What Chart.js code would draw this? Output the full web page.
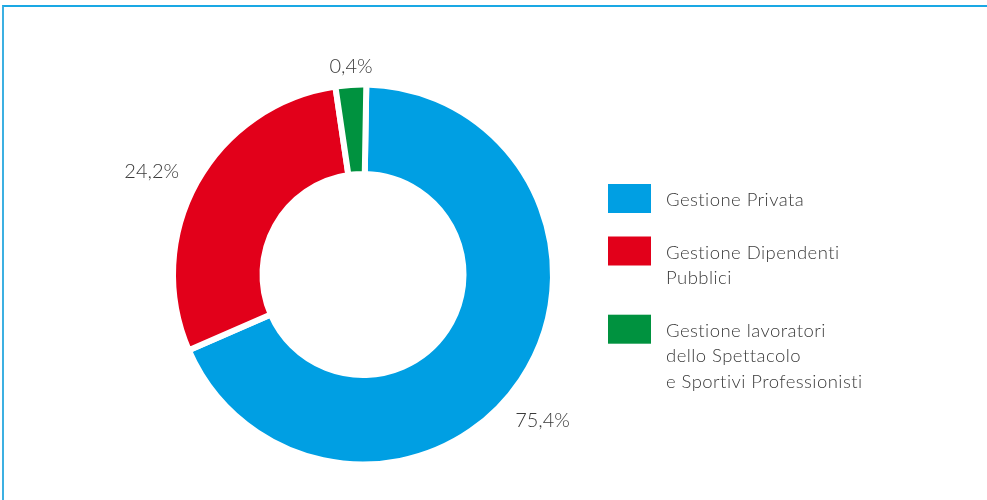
<!DOCTYPE html>
<html>
<head>
<meta charset="utf-8">
<script src="https://cdn.jsdelivr.net/npm/chart.js@4.4.1/dist/chart.umd.min.js"></script>
<style>
  html, body { margin: 0; padding: 0; background: #fff; }
  #wrap { position: relative; width: 987px; height: 500px; overflow: hidden; }
  #frame { position: absolute; left: 2px; top: 5px; width: 990px; height: 500px;
           border-top: 2px solid #1aa8e4; border-left: 2px solid #3cb0e2; box-sizing: border-box; }
  canvas { position: absolute; left: 0; top: 0; }
</style>
</head>
<body>
<div id="wrap">
  <div id="frame"></div>
  <canvas id="c" width="987" height="500"></canvas>
</div>
<script>
// Categories (legend text, one array entry per line)
const categories = [
  ['Gestione Privata'],
  ['Gestione Dipendenti', 'Pubblici'],
  ['Gestione lavoratori', 'dello Spettacolo', 'e Sportivi Professionisti']
];
// Arc shares as drawn in the picture (percent of the ring)
const arcShares = [68.2, 29.2, 2.6];
// Printed value labels
const valueLabels = ['75,4%', '24,2%', '0,4%'];
const colors = ['#009fe3', '#e2001a', '#00923f'];

const FONT = 'Lato, "Open Sans", "Noto Sans", sans-serif';
const TEXT = '#3a3a3a';

const labelPlugin = {
  id: 'valueLabels',
  afterDatasetsDraw(chart, args, opts) {
    const ctx = chart.ctx;
    const meta = chart.getDatasetMeta(0);
    ctx.save();
    ctx.font = '300 ' + opts.size + 'px ' + FONT;
    ctx.fillStyle = TEXT;
    ctx.textAlign = 'center';
    ctx.textBaseline = 'middle';
    meta.data.forEach((arc, i) => {
      const p = arc.getProps(['x', 'y', 'startAngle', 'endAngle', 'outerRadius'], true);
      const a = (p.startAngle + p.endAngle) / 2 + opts.shift[i] * Math.PI / 180;
      const r = p.outerRadius + opts.gap[i];
      ctx.fillText(valueLabels[i], p.x + Math.cos(a) * r, p.y + Math.sin(a) * r);
    });
    ctx.restore();
  }
};

const legendPlugin = {
  id: 'sideLegend',
  afterDraw(chart, args, opts) {
    const ctx = chart.ctx;
    const ds = chart.data.datasets[0];
    ctx.save();
    ctx.font = '300 ' + opts.size + 'px ' + FONT;
    if ('letterSpacing' in ctx) ctx.letterSpacing = opts.spacing + 'px';
    ctx.textAlign = 'left';
    ctx.textBaseline = 'alphabetic';
    let top = opts.top;
    chart.data.labels.forEach((lines, i) => {
      ctx.fillStyle = ds.backgroundColor[i];
      ctx.fillRect(opts.x, top, opts.boxW, opts.boxH);
      ctx.fillStyle = TEXT;
      let base = top + opts.firstBase;
      lines.forEach((ln, j) => {
        ctx.fillText(ln, opts.textX, base + j * opts.lineH);
      });
      top = base + (lines.length - 1) * opts.lineH + opts.after;
    });
    ctx.restore();
  }
};

new Chart(document.getElementById('c'), {
  type: 'doughnut',
  data: {
    labels: categories,
    datasets: [{
      data: arcShares,
      backgroundColor: colors,
      borderColor: '#ffffff',
      borderWidth: 6,
      hoverOffset: 0
    }]
  },
  options: {
    responsive: false,
    devicePixelRatio: 1,
    animation: false,
    events: [],
    rotation: 1,
    radius: 190,
    cutout: '52.9%',
    layout: { padding: { left: 0, right: 261, top: 49, bottom: 0 } },
    plugins: {
      legend: { display: false },
      tooltip: { enabled: false },
      valueLabels: { size: 20, shift: [5.45, -3.1, 0.37], gap: [41.7, 45, 18] },
      sideLegend: { x: 608, top: 184, boxW: 43, boxH: 29, textX: 666, size: 18.5, spacing: 0.45,
                    firstBase: 22, lineH: 25.7, after: 30.5 }
    }
  },
  plugins: [labelPlugin, legendPlugin]
});
</script>
</body>
</html>
